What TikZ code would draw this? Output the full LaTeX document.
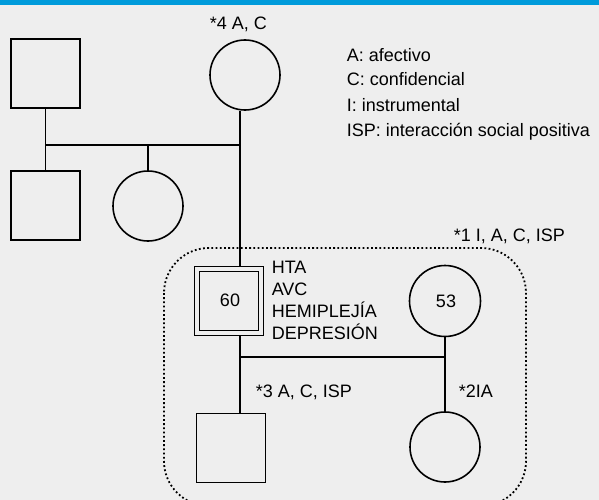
\documentclass[tikz,border=0pt]{standalone}
\usepackage{fontspec}
\setmainfont{Liberation Sans}
\definecolor{bgc}{HTML}{EEEEEE}
\definecolor{barc}{HTML}{009BDB}
\begin{document}
\begin{tikzpicture}[x=1pt,y=-1pt,
  line width=1.6pt,
  male/.style={draw, rectangle, minimum size=69pt, inner sep=0pt},
  female/.style={draw, circle, minimum size=70pt, inner sep=0pt},
  lbl/.style={anchor=base west, inner sep=0pt, font=\fontsize{18}{22}\selectfont},
  num/.style={inner sep=0pt, font=\fontsize{18}{22}\selectfont},
  group/.style={draw, line width=1.8pt, dash pattern=on 1.8pt off 2.4pt, rounded corners=45pt}]
\fill[bgc] (0,0) rectangle (599,500);
\fill[barc] (0,0) rectangle (599,5);
\useasboundingbox (0,0) rectangle (599,500);
% people
\node[male] (gf) at (45.5,73.5) {};
\node[female] (gm) at (245,75) {};
\node[male] (un) at (45.5,205.5) {};
\node[female] (au) at (148,206) {};
\node[male, minimum size=69pt] (pt) at (229,301) {};
\node[male, minimum size=59pt] (ptin) at (229,301) {};
\node[num] (n60) at (230,300) {60};
\node[female, minimum size=71pt] (sp) at (445,301) {};
\node[num] (n53) at (446,301) {53};
\node[male] (son) at (231,448) {};
\node[female] (dau) at (445,447) {};
% helper coordinates
\coordinate (vx) at (240,0);
\coordinate (topl) at (0,145);
\coordinate (lowl) at (0,357);
% connectors
\draw (gf.south) -- (un.north);
\draw (un.north |- topl) -- (vx |- topl);
\draw (au.north) -- (au.north |- topl);
\draw (gm.south -| vx) -- (pt.north -| vx);
\draw (pt.south -| vx) -- (son.north -| vx);
\draw (vx |- lowl) -- (sp.south |- lowl);
\draw (sp.south) -- (dau.north);
% group
\draw[group] (164,248) rectangle (526,506);
% labels
\node[lbl] (l4) at (209,30) {*4 A, C};
\node[lbl] (lgA) at (346,62) {A: afectivo};
\node[lbl] (lgC) at (346,86) {C: confidencial};
\node[lbl] (lgI) at (346,111) {I: instrumental};
\node[lbl] (lgS) at (346,136) {ISP: interacción social positiva};
\node[lbl] (l1) at (453,241) {*1 I, A, C, ISP};
\node[lbl] (d1) at (271,273) {HTA};
\node[lbl] (d2) at (271,295) {AVC};
\node[lbl] (d3) at (271,317) {HEMIPLEJÍA};
\node[lbl] (d4) at (271,339) {DEPRESIÓN};
\node[lbl] (l3) at (255,397) {*3 A, C, ISP};
\node[lbl] (l2) at (458,397) {*2IA};
\end{tikzpicture}
\end{document}
